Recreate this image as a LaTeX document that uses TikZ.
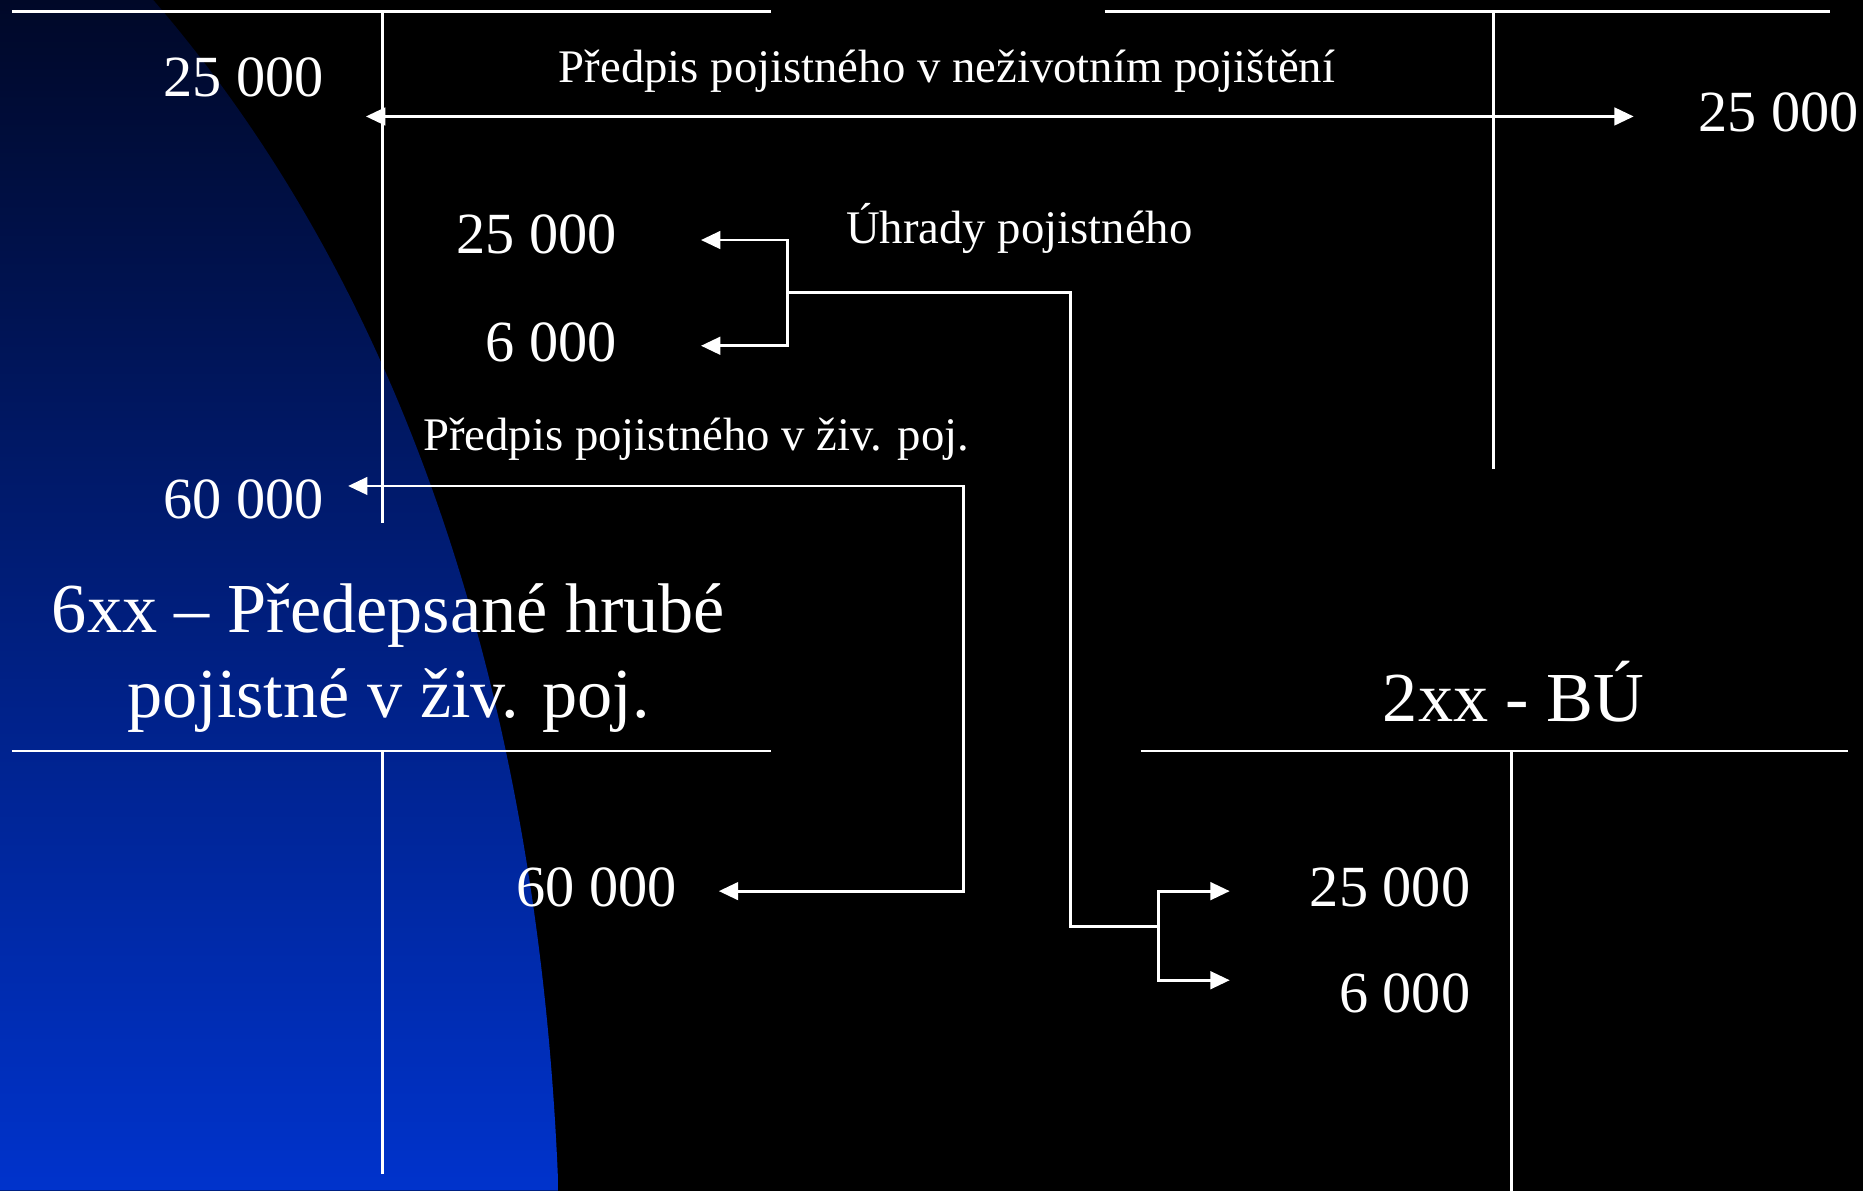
\documentclass[tikz,border=0pt]{standalone}
\usepackage{fontspec}
\setmainfont{Liberation Serif}
\usetikzlibrary{arrows.meta}

\definecolor{bgtop}{RGB}{0,8,40}
\definecolor{bgmid}{RGB}{0,36,150}
\definecolor{bgbot}{RGB}{0,51,204}

\begin{document}
\begin{tikzpicture}[
  x=0.011882cm, y=-0.011882cm,
  tline/.style={draw=white, line width=0.8pt},
  num/.style={text=white, font=\fontsize{16.6}{19}\selectfont, anchor=east, inner sep=0pt},
  lbl/.style={text=white, font=\fontsize{13.3}{16}\selectfont, inner sep=0pt},
  acctitle/.style={text=white, font=\fontsize{20}{24.3}\selectfont, align=center, inner sep=0pt},
  arrow/.style={draw=white, line width=0.8pt, -{Triangle[length=5.5pt,width=5pt]}},
  arrowboth/.style={draw=white, line width=0.8pt, {Triangle[length=5.5pt,width=5pt]}-{Triangle[length=5.5pt,width=5pt]}}
]

\useasboundingbox (0,0) rectangle (1568,1002);
\fill[black] (0,0) rectangle (1568,1002);
\shade[top color=bgtop, middle color=bgmid, bottom color=bgbot]
  (0,0) -- (129,0) .. controls (345,250) and (455,600) .. (470,1002)
  -- (0,1002) -- cycle;

% T-accounts
\draw[tline] (10,10) -- (649,10);
\draw[tline] (322,10) -- (322,440);
\draw[tline] (930,10) -- (1540,10);
\draw[tline] (1257,10) -- (1257,395);
\draw[tline] (10,632) -- (649,632);
\draw[tline] (322,632) -- (322,988);
\draw[tline] (960,632) -- (1555,632);
\draw[tline] (1272,632) -- (1272,1002);

\node[acctitle] (titleZiv) at (327,554) {6xx -- Předepsané hrubé\\pojistné v živ. poj.};
\node[acctitle, anchor=base] (titleBU) at (1274,607) {2xx - BÚ};

\node[num] (predL) at (273,65) {25 000};
\node[num] (predR) at (1565,95) {25 000};
\node[num] (uhr1) at (520,197) {25 000};
\node[num] (uhr2) at (520,288) {6 000};
\node[num] (zivL) at (273,420) {60 000};
\node[num] (zivR) at (570,747) {60 000};
\node[num] (bu1) at (1238,747) {25 000};
\node[num] (bu2) at (1238,836) {6 000};

\node[lbl] (lblNeziv) at (797,60) {Předpis pojistného v neživotním pojištění};
\node[lbl] (lblUhr) at (858,192) {Úhrady pojistného};
\node[lbl] (lblZiv) at (586,370) {Předpis pojistného v živ. poj.};

\coordinate (tipPredL) at (308,98);
\coordinate (tipPredR) at (1375,98);
\coordinate (tipUhr1) at (590,202);
\coordinate (tipUhr2) at (590,291);
\coordinate (forkUhr) at (663,246);
\coordinate (bendUhr) at (901,780);
\coordinate (forkBU) at (975,780);
\coordinate (tipBU1) at (1035,750);
\coordinate (tipBU2) at (1035,825);
\coordinate (tipZivL) at (293,409);
\coordinate (bendZiv) at (811,750);
\coordinate (tipZivR) at (605,750);

\draw[arrowboth] (tipPredL) -- (tipPredR);
\draw[arrow] (forkUhr) |- (tipUhr1);
\draw[arrow] (forkUhr) |- (tipUhr2);
\draw[tline] (forkUhr) -| (bendUhr) -- (forkBU);
\draw[arrow] (forkBU) |- (tipBU1);
\draw[arrow] (forkBU) |- (tipBU2);
\draw[arrowboth] (tipZivL) -| (bendZiv) -- (tipZivR);

\end{tikzpicture}
\end{document}
